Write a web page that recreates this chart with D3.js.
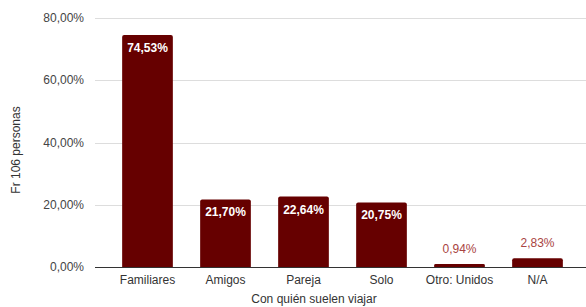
<!DOCTYPE html>
<meta charset="utf-8">
<style>
  body { margin: 0; background: #fff; }
  text { font-family: "Liberation Sans", Arial, sans-serif; }
</style>
<script src="https://d3js.org/d3.v7.min.js"></script>
<body>
<script>
// data
var categories = ["Familiares", "Amigos", "Pareja", "Solo", "Otro: Unidos", "N/A"];
var values = [74.53, 21.70, 22.64, 20.75, 0.94, 2.83];
var yTicks = [0, 20, 40, 60, 80];

var width = 586, height = 307;
var fmt = function(v) { return v.toFixed(2).replace(".", ",") + "%"; };

var svg = d3.select("body").append("svg")
    .attr("width", width)
    .attr("height", height);

var x = d3.scaleBand()
    .domain(categories)
    .range([108.5, 576.5])
    .paddingInner(0.35)
    .paddingOuter(0.175);

var y = d3.scaleLinear()
    .domain([0, 80])
    .range([267, 18]);

// gridlines
svg.selectAll(".grid")
    .data(yTicks)
    .enter().append("line")
    .attr("x1", 95).attr("x2", 586)
    .attr("y1", function(d) { return Math.round(y(d)) + 0.5; })
    .attr("y2", function(d) { return Math.round(y(d)) + 0.5; })
    .attr("stroke", function(d) { return d === 0 ? "#333" : "#ddd"; })
    .attr("stroke-width", 1);

// y tick labels
svg.selectAll(".ytick")
    .data(yTicks)
    .enter().append("text")
    .attr("x", 84)
    .attr("y", function(d) { return y(d); })
    .attr("dy", "0.35em")
    .attr("text-anchor", "end")
    .attr("font-size", 12)
    .attr("fill", "#444")
    .text(function(d) { return fmt(d); });

// bars with rounded top corners
var rad = 2;
svg.selectAll(".bar")
    .data(values)
    .enter().append("path")
    .attr("fill", "#660000")
    .attr("d", function(d, i) {
      var x0 = x(categories[i]), w = x.bandwidth();
      var top = y(d), bot = y(0);
      var r = Math.min(rad, (bot - top) / 2);
      return "M" + x0 + "," + bot +
        "V" + (top + r) +
        "Q" + x0 + "," + top + " " + (x0 + r) + "," + top +
        "H" + (x0 + w - r) +
        "Q" + (x0 + w) + "," + top + " " + (x0 + w) + "," + (top + r) +
        "V" + bot + "Z";
    });

// value labels
svg.selectAll(".val")
    .data(values)
    .enter().append("text")
    .attr("x", function(d, i) { return x(categories[i]) + x.bandwidth() / 2; })
    .attr("y", function(d) { return d > 10 ? y(d) + 17 : y(d) - 11; })
    .attr("text-anchor", "middle")
    .attr("font-size", 12)
    .attr("font-weight", function(d) { return d > 10 ? "bold" : "normal"; })
    .attr("fill", function(d) { return d > 10 ? "#fff" : "#a94442"; })
    .text(function(d) { return fmt(d); });

// category labels
svg.selectAll(".cat")
    .data(categories)
    .enter().append("text")
    .attr("x", function(d) { return x(d) + x.bandwidth() / 2; })
    .attr("y", 284)
    .attr("text-anchor", "middle")
    .attr("font-size", 12)
    .attr("fill", "#333")
    .text(function(d) { return d; });

// axis titles
svg.append("text")
    .attr("x", 314)
    .attr("y", 303)
    .attr("text-anchor", "middle")
    .attr("font-size", 12)
    .attr("fill", "#333")
    .text("Con quién suelen viajar");

svg.append("text")
    .attr("transform", "translate(20,150) rotate(-90)")
    .attr("text-anchor", "middle")
    .attr("font-size", 12)
    .attr("fill", "#333")
    .text("Fr 106 personas");
</script>
</body>
